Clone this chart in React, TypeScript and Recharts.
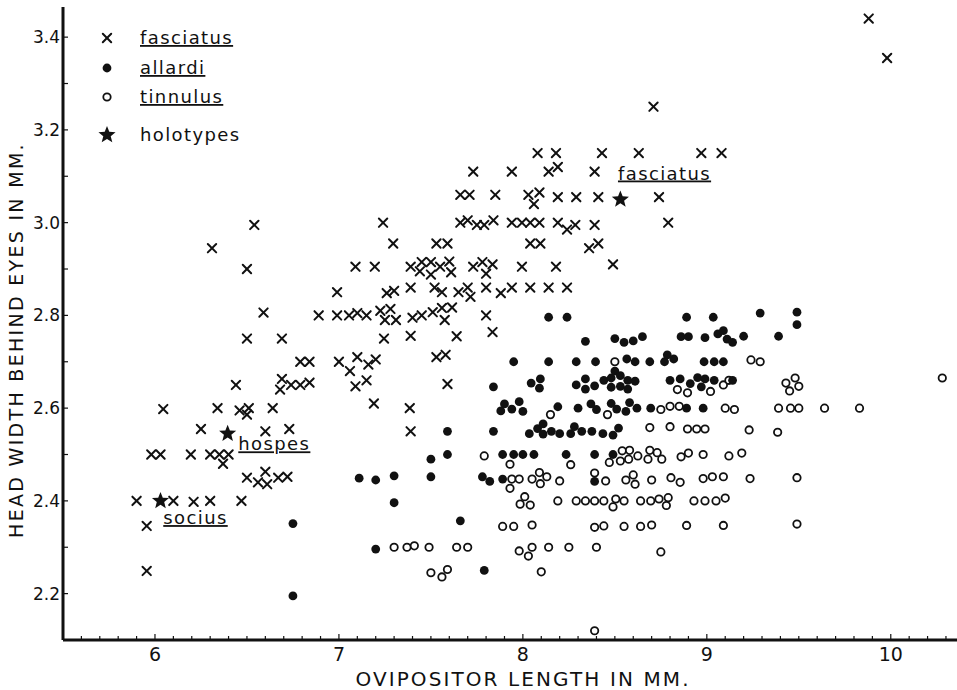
import React from "react";
import { ScatterChart, Scatter, XAxis, YAxis } from "recharts";

// values: [ovipositor length, head width] in mm
const fasciatus: [number, number][] = [
  [9.88, 3.44], [9.98, 3.355], [8.71, 3.25],
  [8.08, 3.15], [8.18, 3.15], [8.43, 3.15], [8.63, 3.15], [8.97, 3.15], [9.08, 3.15],
  [7.73, 3.11], [7.94, 3.11], [8.14, 3.11], [8.19, 3.12], [8.39, 3.11],
  [7.66, 3.06], [7.71, 3.06], [7.85, 3.06], [8.03, 3.06], [8.09, 3.065], [8.06, 3.04],
  [8.19, 3.055], [8.29, 3.055], [8.41, 3.055], [8.74, 3.055],
  [6.54, 2.995], [7.24, 3.0], [7.66, 3.0], [7.7, 3.005], [7.75, 2.995], [7.79, 2.995],
  [7.84, 3.005], [7.94, 3.0], [7.995, 3.0], [8.04, 3.0], [8.09, 3.0], [8.19, 3.0],
  [8.24, 2.985], [8.285, 2.995], [8.39, 2.995], [8.79, 3.0],
  [6.31, 2.945], [7.295, 2.955], [7.53, 2.955], [7.59, 2.955], [8.04, 2.955], [8.095, 2.955],
  [8.36, 2.945], [8.41, 2.955],
  [6.5, 2.9], [7.09, 2.905], [7.195, 2.905], [7.39, 2.905], [7.45, 2.915], [7.44, 2.895],
  [7.5, 2.915], [7.5, 2.888], [7.55, 2.905], [7.6, 2.916], [7.61, 2.893], [7.73, 2.905],
  [7.78, 2.915], [7.835, 2.91], [7.8, 2.89], [7.995, 2.905], [8.18, 2.905], [8.49, 2.91],
  [6.99, 2.85], [7.26, 2.848], [7.3, 2.853], [7.39, 2.86], [7.52, 2.86], [7.56, 2.85],
  [7.65, 2.85], [7.7, 2.86], [7.715, 2.84], [7.8, 2.86], [7.88, 2.848], [7.94, 2.86],
  [8.04, 2.86], [8.14, 2.86], [8.24, 2.86],
  [6.59, 2.806], [6.89, 2.8], [6.99, 2.8], [7.055, 2.8], [7.1, 2.805], [7.15, 2.8],
  [7.225, 2.81], [7.28, 2.814], [7.25, 2.79], [7.31, 2.79], [7.4, 2.795], [7.45, 2.8],
  [7.51, 2.807], [7.56, 2.816], [7.575, 2.79], [7.615, 2.817], [7.8, 2.8],
  [6.5, 2.75], [6.69, 2.75], [7.245, 2.75], [7.39, 2.756], [7.64, 2.755], [7.835, 2.764],
  [6.79, 2.7], [6.84, 2.7], [7.0, 2.7], [7.1, 2.71], [7.06, 2.68], [7.16, 2.694],
  [7.2, 2.705], [7.53, 2.71], [7.58, 2.715],
  [6.44, 2.65], [6.69, 2.663], [6.68, 2.64], [6.74, 2.65], [6.79, 2.65], [6.84, 2.655],
  [7.09, 2.647], [7.15, 2.66], [7.59, 2.652],
  [6.045, 2.598], [6.34, 2.6], [6.46, 2.595], [6.51, 2.6], [6.5, 2.586], [6.64, 2.6],
  [7.19, 2.61], [7.385, 2.6],
  [6.25, 2.555], [6.6, 2.55], [6.73, 2.555], [7.39, 2.55],
  [5.98, 2.5], [6.03, 2.5], [6.195, 2.5], [6.3, 2.5], [6.35, 2.5], [6.4, 2.5], [6.37, 2.48],
  [6.5, 2.45], [6.56, 2.44], [6.6, 2.463], [6.61, 2.436], [6.67, 2.45], [6.72, 2.452],
  [5.9, 2.4], [6.1, 2.4], [6.21, 2.398], [6.3, 2.4], [6.47, 2.4],
  [5.955, 2.346], [5.955, 2.249],
];

const allardi: [number, number][] = [
  [8.14, 2.796], [8.24, 2.796], [8.89, 2.796], [9.035, 2.796], [9.29, 2.805], [9.49, 2.807], [9.49, 2.78],
  [8.34, 2.744], [8.5, 2.75], [8.55, 2.742], [8.6, 2.745], [8.65, 2.754], [8.86, 2.754],
  [8.9, 2.754], [8.99, 2.752], [9.06, 2.76], [9.09, 2.767], [9.11, 2.749], [9.14, 2.742],
  [9.2, 2.755], [9.39, 2.755],
  [7.95, 2.7], [8.14, 2.7], [8.29, 2.7], [8.395, 2.7], [8.565, 2.706], [8.61, 2.7],
  [8.69, 2.7], [8.77, 2.7], [8.785, 2.715], [8.82, 2.706], [8.985, 2.7], [9.04, 2.7], [9.09, 2.7],
  [7.84, 2.646], [8.045, 2.654], [8.095, 2.663], [8.09, 2.643], [8.29, 2.65], [8.34, 2.663],
  [8.34, 2.641], [8.39, 2.648], [8.44, 2.66], [8.48, 2.665], [8.5, 2.68], [8.48, 2.645],
  [8.53, 2.67], [8.53, 2.647], [8.57, 2.66], [8.57, 2.641], [8.61, 2.658], [8.8, 2.66],
  [8.855, 2.663], [8.91, 2.653], [8.95, 2.666], [8.99, 2.663], [8.97, 2.646], [9.04, 2.66], [9.14, 2.66],
  [7.9, 2.609], [7.88, 2.594], [7.94, 2.598], [7.98, 2.614], [8.0, 2.593], [8.19, 2.603],
  [8.3, 2.6], [8.37, 2.609], [8.4, 2.597], [8.48, 2.61], [8.51, 2.598], [8.56, 2.593],
  [8.58, 2.612], [8.62, 2.6], [8.695, 2.6], [8.89, 2.6], [8.98, 2.6],
  [7.59, 2.55], [7.84, 2.55], [8.035, 2.545], [8.08, 2.556], [8.11, 2.566], [8.11, 2.544],
  [8.155, 2.55], [8.2, 2.545], [8.26, 2.545], [8.28, 2.56], [8.32, 2.55], [8.375, 2.55],
  [8.435, 2.545], [8.49, 2.542], [8.52, 2.557],
  [7.5, 2.49], [7.59, 2.5], [7.89, 2.5], [7.95, 2.5], [8.0, 2.5], [8.06, 2.5], [8.235, 2.5],
  [8.39, 2.5], [8.49, 2.5],
  [7.11, 2.449], [7.2, 2.445], [7.3, 2.454], [7.5, 2.452], [7.78, 2.452], [7.82, 2.442],
  [7.89, 2.447], [8.39, 2.442],
  [7.3, 2.396], [6.75, 2.351], [7.66, 2.357], [7.2, 2.296], [7.79, 2.25], [6.75, 2.195],
];

const tinnulus: [number, number][] = [
  [8.5, 2.7], [9.24, 2.704], [9.29, 2.7],
  [8.84, 2.64], [8.895, 2.633], [9.02, 2.636], [9.09, 2.65], [9.12, 2.66], [9.43, 2.654],
  [9.48, 2.665], [9.45, 2.637], [9.5, 2.647], [10.28, 2.665],
  [8.15, 2.586], [8.46, 2.586], [8.75, 2.597], [8.8, 2.604], [8.85, 2.604], [9.1, 2.6],
  [9.15, 2.597], [9.39, 2.6], [9.455, 2.6], [9.5, 2.6], [9.64, 2.6], [9.83, 2.6],
  [8.69, 2.558], [8.8, 2.56], [8.895, 2.555], [8.945, 2.555], [8.99, 2.555], [9.23, 2.553], [9.385, 2.548],
  [7.79, 2.497], [7.93, 2.479], [8.26, 2.478], [8.47, 2.483], [8.53, 2.486], [8.54, 2.508],
  [8.58, 2.509], [8.575, 2.49], [8.625, 2.497], [8.69, 2.509], [8.73, 2.504], [8.68, 2.49],
  [8.755, 2.49], [8.86, 2.495], [8.9, 2.503], [8.98, 2.5], [9.12, 2.497], [9.19, 2.503],
  [7.94, 2.447], [7.98, 2.447], [7.93, 2.427], [8.05, 2.447], [8.09, 2.461], [8.095, 2.437],
  [8.13, 2.452], [8.2, 2.443], [8.39, 2.46], [8.45, 2.443], [8.56, 2.445], [8.6, 2.456],
  [8.61, 2.436], [8.7, 2.445], [8.805, 2.45], [8.855, 2.44], [8.98, 2.448], [9.03, 2.452],
  [9.09, 2.452], [9.235, 2.448], [9.49, 2.45],
  [7.985, 2.393], [8.01, 2.409], [8.04, 2.391], [8.19, 2.4], [8.29, 2.4], [8.34, 2.4],
  [8.39, 2.4], [8.44, 2.4], [8.505, 2.404], [8.49, 2.387], [8.55, 2.4], [8.64, 2.4],
  [8.695, 2.4], [8.74, 2.404], [8.79, 2.407], [8.78, 2.39], [8.93, 2.4], [8.99, 2.4],
  [9.05, 2.4], [9.1, 2.406],
  [7.89, 2.345], [7.95, 2.345], [8.05, 2.348], [8.39, 2.343], [8.44, 2.346], [8.55, 2.345],
  [8.64, 2.345], [8.7, 2.348], [8.89, 2.347], [9.09, 2.347], [9.49, 2.35],
  [7.3, 2.3], [7.37, 2.3], [7.41, 2.303], [7.49, 2.3], [7.64, 2.3], [7.7, 2.3], [7.98, 2.292],
  [8.05, 2.3], [8.03, 2.281], [8.14, 2.3], [8.25, 2.3], [8.4, 2.3], [8.75, 2.29],
  [7.5, 2.245], [7.56, 2.236], [7.59, 2.252], [8.1, 2.247],
  [8.39, 2.12],
];

const holotypes: [number, number][] = [[8.53, 3.05], [6.395, 2.545], [6.03, 2.4]];

// names written next to the holotypes (anchored at text baseline, left end)
const holotypeNames = [
  { name: "fasciatus", x: 8.517, y: 3.093 },
  { name: "hospes", x: 6.453, y: 2.509 },
  { name: "socius", x: 6.045, y: 2.35 },
];

const xTicks = [
  5.6, 5.7, 5.8, 5.9, 6.0, 6.1, 6.2, 6.3, 6.4, 6.5, 6.6, 6.7, 6.8, 6.9,
  7.0, 7.1, 7.2, 7.3, 7.4, 7.5, 7.6, 7.7, 7.8, 7.9, 8.0, 8.1, 8.2, 8.3, 8.4, 8.5,
  8.6, 8.7, 8.8, 8.9, 9.0, 9.1, 9.2, 9.3, 9.4, 9.5, 9.6, 9.7, 9.8, 9.9, 10.0,
  10.1, 10.2, 10.3,
];
const xLabels = ["6", "7", "8", "9", "10"];
const yTicks = [2.2, 2.3, 2.4, 2.5, 2.6, 2.7, 2.8, 2.9, 3.0, 3.1, 3.2, 3.3, 3.4];
const yLabels = ["2.2", "2.4", "2.6", "2.8", "3.0", "3.2", "3.4"];

const legendNames = ["fasciatus", "allardi", "tinnulus", "holotypes"];

const FONT = "'DejaVu Sans', 'Liberation Sans', sans-serif";
const toPts = (arr: [number, number][]) => arr.map(([x, y]) => ({ x, y }));

const Cross = ({ cx, cy }: any) => (
  <g stroke="#111" strokeWidth={2} strokeLinecap="round">
    <line x1={cx - 4.2} y1={cy - 4.2} x2={cx + 4.2} y2={cy + 4.2} />
    <line x1={cx - 4.2} y1={cy + 4.2} x2={cx + 4.2} y2={cy - 4.2} />
  </g>
);

const Dot = ({ cx, cy }: any) => <circle cx={cx} cy={cy} r={4.4} fill="#111" />;

const Ring = ({ cx, cy }: any) => (
  <circle cx={cx} cy={cy} r={3.7} fill="#fff" stroke="#111" strokeWidth={1.8} />
);

const starPath = (cx: number, cy: number, ro: number, ri: number) => {
  const pts: string[] = [];
  for (let i = 0; i < 10; i++) {
    const r = i % 2 === 0 ? ro : ri;
    const a = -Math.PI / 2 + (i * Math.PI) / 5;
    pts.push(`${cx + r * Math.cos(a)},${cy + r * Math.sin(a)}`);
  }
  return pts.join(" ");
};

const Star = ({ cx, cy }: any) => (
  <polygon points={starPath(cx, cy, 9, 3.9)} fill="#111" />
);

const NameLabel = ({ cx, cy, payload }: any) => (
  <text
    x={cx}
    y={cy}
    fontFamily={FONT}
    fontSize={18}
    letterSpacing={1.4}
    fill="#111"
    style={{ textDecoration: "underline" }}
  >
    {payload.name}
  </text>
);

const XTick = ({ x, y, payload }: any) => {
  const v = payload.value;
  const major = Math.abs(v - Math.round(v)) < 1e-6;
  const label = major ? xLabels.find((l) => Number(l) === Math.round(v)) : undefined;
  return (
    <g>
      <line x1={x} y1={y} x2={x} y2={y - (major ? 6 : 4)} stroke="#111" strokeWidth={1.2} />
      {label && (
        <text x={x} y={y + 21} textAnchor="middle" fontFamily={FONT} fontSize={19} fill="#111">
          {label}
        </text>
      )}
    </g>
  );
};

const YTick = ({ x, y, payload }: any) => {
  const v = payload.value;
  const label = yLabels.find((l) => Math.abs(Number(l) - v) < 1e-6);
  return (
    <g>
      <line x1={x} y1={y} x2={x + 5} y2={y} stroke="#111" strokeWidth={1.2} />
      {label && (
        <text x={x - 3} y={y + 6} textAnchor="end" fontFamily={FONT} fontSize={17} fill="#111">
          {label}
        </text>
      )}
    </g>
  );
};

const legendMarks = [
  (cx: number, cy: number) => <Cross cx={cx} cy={cy} />,
  (cx: number, cy: number) => <Dot cx={cx} cy={cy} />,
  (cx: number, cy: number) => <Ring cx={cx} cy={cy} />,
  (cx: number, cy: number) => <Star cx={cx} cy={cy} />,
];
const legendRows = [38, 68, 97, 135];

export default function App() {
  return (
    <div style={{ position: "absolute", left: 0, top: 0, width: 957, height: 690, background: "#fff" }}>
      <ScatterChart width={957} height={690} margin={{ top: 7, right: 0, bottom: 0, left: 0 }}>
        <XAxis
          type="number"
          dataKey="x"
          domain={[5.5, 10.36]}
          allowDataOverflow
          ticks={xTicks}
          interval={0}
          height={50}
          tickSize={0}
          tickMargin={0}
          tickLine={false}
          axisLine={{ stroke: "#111", strokeWidth: 3 }}
          tick={(p: any) => <XTick {...p} />}
        />
        <YAxis
          type="number"
          dataKey="y"
          domain={[2.1, 3.465]}
          allowDataOverflow
          ticks={yTicks}
          interval={0}
          width={63}
          tickSize={0}
          tickMargin={0}
          tickLine={false}
          axisLine={{ stroke: "#111", strokeWidth: 3 }}
          tick={(p: any) => <YTick {...p} />}
        />
        <Scatter data={toPts(tinnulus)} isAnimationActive={false} shape={(p: any) => <Ring {...p} />} />
        <Scatter data={toPts(allardi)} isAnimationActive={false} shape={(p: any) => <Dot {...p} />} />
        <Scatter data={toPts(fasciatus)} isAnimationActive={false} shape={(p: any) => <Cross {...p} />} />
        <Scatter data={toPts(holotypes)} isAnimationActive={false} shape={(p: any) => <Star {...p} />} />
        <Scatter data={holotypeNames} isAnimationActive={false} shape={(p: any) => <NameLabel {...p} />} />
      </ScatterChart>
      <svg
        width={957}
        height={690}
        style={{ position: "absolute", left: 0, top: 0, pointerEvents: "none" }}
      >
        {legendNames.map((n, i) => (
          <g key={n}>
            {legendMarks[i](107, legendRows[i])}
            <text
              x={140}
              y={legendRows[i] + 6}
              fontFamily={FONT}
              fontSize={18}
              letterSpacing={1.4}
              fill="#111"
              style={i < 3 ? { textDecoration: "underline" } : undefined}
            >
              {n}
            </text>
          </g>
        ))}
        <text
          x={523}
          y={686}
          textAnchor="middle"
          fontFamily={FONT}
          fontSize={20}
          letterSpacing={2.1}
          fill="#111"
        >
          OVIPOSITOR LENGTH IN MM.
        </text>
        <text
          transform="translate(23,340) rotate(-90)"
          textAnchor="middle"
          fontFamily={FONT}
          fontSize={19}
          letterSpacing={2.3}
          fill="#111"
        >
          HEAD WIDTH BEHIND EYES IN MM.
        </text>
      </svg>
    </div>
  );
}
